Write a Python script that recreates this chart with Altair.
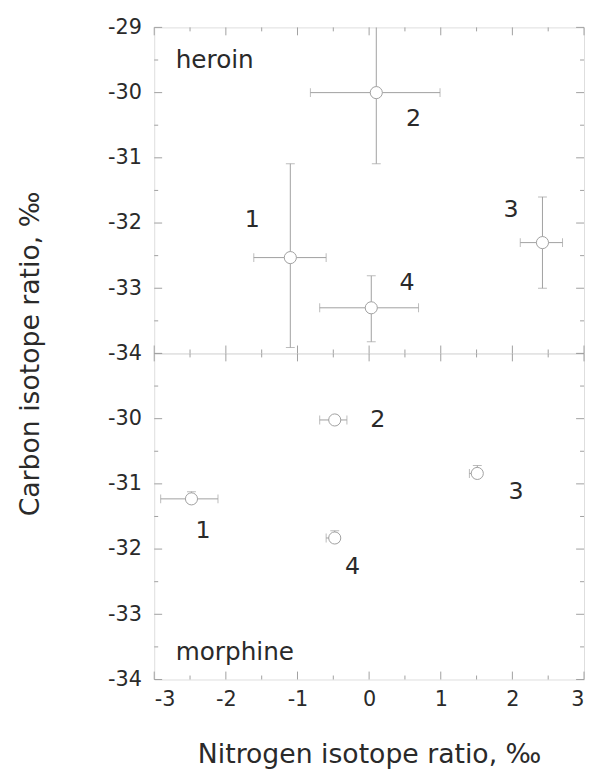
import altair as alt
import pandas as pd

# ---------------- data ----------------
point_ids = ["1", "2", "3", "4"]

# heroin (upper panel)
h_x = [-1.10, 0.10, 2.42, 0.03]
h_xlo = [-1.61, -0.82, 2.11, -0.69]
h_xhi = [-0.60, 0.99, 2.70, 0.69]
h_y = [-32.53, -30.00, -32.30, -33.30]
h_ylo = [-33.91, -31.09, -33.00, -33.82]
h_yhi = [-31.09, -28.90, -31.60, -32.81]
h_lx = [-1.63, 0.62, 1.98, 0.53]
h_ly = [-31.96, -30.40, -31.80, -32.92]

# morphine (lower panel)
m_x = [-2.48, -0.48, 1.51, -0.48]
m_xlo = [-2.91, -0.69, 1.40, -0.60]
m_xhi = [-2.11, -0.31, 1.55, -0.45]
m_y = [-31.23, -30.02, -30.84, -31.83]
m_ylo = [-31.30, -30.02, -30.90, -31.90]
m_yhi = [-31.12, -30.02, -30.72, -31.72]
m_lx = [-2.32, 0.12, 2.05, -0.23]
m_ly = [-31.73, -30.02, -31.13, -32.28]

panel_names = ["heroin", "morphine"]
panel_name_x = [-2.70, -2.70]
panel_name_y = [-29.50, -33.58]

x_major = [-3, -2, -1, 0, 1, 2, 3]
x_minor = [-2.5, -1.5, -0.5, 0.5, 1.5, 2.5]
y_major = [-34, -33, -32, -31, -30, -29]
y_minor = [-33.5, -32.5, -31.5, -30.5, -29.5]
top_y_labels = [-34, -33, -32, -31, -30, -29]
bottom_y_labels = [-34, -33, -32, -31, -30]

x_title = "Nitrogen isotope ratio, ‰"
y_title = "Carbon isotope ratio, ‰"

# ---------------- styling ----------------
W, H = 435, 330
FONT = "DejaVu Sans"
FW = "normal"
GRAY = "#a0a0a0"
TXT = "#2a2a2a"
MAJ, MIN = 8, 4

xs = alt.Scale(domain=[-3, 3], nice=False, zero=False)
ys = alt.Scale(domain=[-34, -29], nice=False, zero=False)


def make_panel(x, xlo, xhi, y, ylo, yhi, lx, ly, idx, show_x, ylabels, show_ytitle):
    df = pd.DataFrame(dict(id=point_ids, x=x, xlo=xlo, xhi=xhi, y=y,
                           ylo=ylo, yhi=yhi, lx=lx, ly=ly))
    if show_x:
        xaxis = alt.Axis(values=x_major, labelExpr="datum.value + ''", ticks=False,
                         tickSize=0, domain=False, grid=False, labelPadding=9,
                         labelFont=FONT, labelFontSize=21, labelColor=TXT,
                         labelFontWeight=FW,
                         title=x_title, titleFont=FONT, titleFontSize=27,
                         titleFontWeight=FW, titleColor=TXT,
                         titleY=84, titleBaseline="alphabetic")
    else:
        xaxis = None
    yaxis_kw = dict(values=ylabels, labelExpr="datum.value + ''", ticks=False,
                    tickSize=0, domain=False, grid=False, labelPadding=13,
                    labelFont=FONT, labelFontSize=21, labelColor=TXT,
                    labelFontWeight=FW, labelBaseline="middle")
    if show_ytitle:
        yaxis = alt.Axis(title=y_title, titleFont=FONT, titleFontSize=27,
                         titleFontWeight=FW, titleColor=TXT,
                         titleX=-117, titleY=H, titleBaseline="alphabetic",
                         **yaxis_kw)
    else:
        yaxis = alt.Axis(title=None, **yaxis_kw)

    X = lambda f: alt.X(f, type="quantitative", scale=xs, axis=xaxis)
    Y = lambda f: alt.Y(f, type="quantitative", scale=ys, axis=yaxis)

    base = alt.Chart(df)
    hbar = base.mark_rule(color=GRAY, strokeWidth=1, clip=True).encode(
        x=X("xlo"), x2="xhi", y=Y("y"))
    vbar = base.mark_rule(color=GRAY, strokeWidth=1, clip=True).encode(
        x=X("x"), y=Y("ylo"), y2="yhi")
    caps = []
    for f in ["xlo", "xhi"]:
        caps.append(base.mark_tick(color=GRAY, orient="vertical", size=9,
                                   thickness=1, clip=True).encode(x=X(f), y=Y("y")))
    for f in ["ylo", "yhi"]:
        caps.append(base.mark_tick(color=GRAY, orient="horizontal", size=9,
                                   thickness=1, clip=True).encode(x=X("x"), y=Y(f)))
    pts = base.mark_point(shape="circle", size=150, filled=True, fill="white",
                          stroke=GRAY, strokeWidth=1, opacity=1).encode(
        x=X("x"), y=Y("y"))
    lbl = base.mark_text(font=FONT, fontSize=24, fontWeight=FW, color=TXT,
                         align="center", baseline="middle").encode(
        x=X("lx"), y=Y("ly"), text="id:N")
    name_df = pd.DataFrame(dict(name=[panel_names[idx]], nx=[panel_name_x[idx]],
                                ny=[panel_name_y[idx]]))
    name = alt.Chart(name_df).mark_text(font=FONT, fontSize=25, fontWeight=FW,
                                        color=TXT, align="left",
                                        baseline="middle").encode(
        x=X("nx"), y=Y("ny"), text="name:N")

    tick_layers = []
    for vals, L in [(x_major, MAJ), (x_minor, MIN)]:
        tdf = pd.DataFrame(dict(v=vals))
        tb = alt.Chart(tdf).mark_rule(color=GRAY, strokeWidth=1)
        tick_layers.append(tb.encode(x=X("v"), y=alt.value(0), y2=alt.value(L)))
        tick_layers.append(tb.encode(x=X("v"), y=alt.value(H), y2=alt.value(H - L)))
    for vals, L in [(y_major, MAJ), (y_minor, MIN)]:
        tdf = pd.DataFrame(dict(v=vals))
        tb = alt.Chart(tdf).mark_rule(color=GRAY, strokeWidth=1)
        tick_layers.append(tb.encode(y=Y("v"), x=alt.value(0), x2=alt.value(L)))
        tick_layers.append(tb.encode(y=Y("v"), x=alt.value(W), x2=alt.value(W - L)))

    return alt.layer(*tick_layers, hbar, vbar, *caps, pts, lbl, name).properties(
        width=W, height=H)


top = make_panel(h_x, h_xlo, h_xhi, h_y, h_ylo, h_yhi, h_lx, h_ly, 0,
                 False, top_y_labels, True)
bottom = make_panel(m_x, m_xlo, m_xhi, m_y, m_ylo, m_yhi, m_lx, m_ly, 1,
                    True, bottom_y_labels, False)

chart = alt.vconcat(top, bottom, spacing=0, bounds="flush").properties(
    padding={"left": 8, "top": 3, "right": 0, "bottom": 0}
).configure_view(stroke=GRAY, strokeWidth=1).configure(background="white")

chart.save("out.html", embed_options={"renderer": "svg", "actions": False})
